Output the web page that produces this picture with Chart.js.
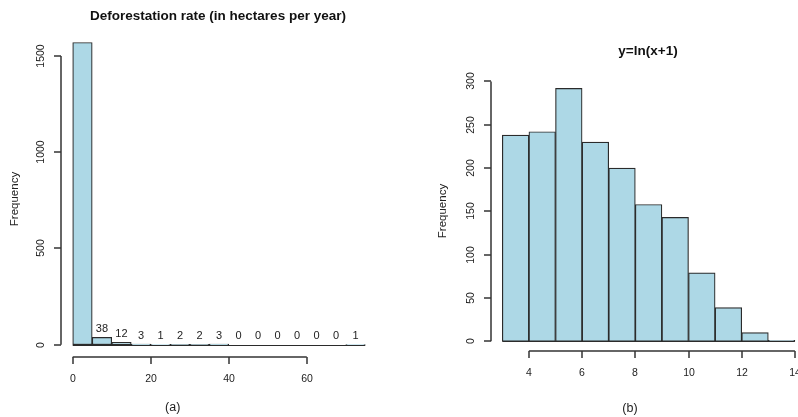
<!DOCTYPE html>
<html>
<head>
<meta charset="utf-8">
<script src="https://cdn.jsdelivr.net/npm/chart.js@4.4.1/dist/chart.umd.min.js"></script>
<style>
html, body { margin: 0; padding: 0; background: #fff; }
#wrap { position: relative; width: 798px; height: 417px; overflow: hidden; }
canvas { position: absolute; top: 0; }
</style>
</head>
<body>
<div id="wrap">
  <canvas id="left" width="400" height="417" style="left:0"></canvas>
  <canvas id="right" width="398" height="417" style="left:400px"></canvas>
</div>
<script>
// (a) raw deforestation rate, bins of 5 ha starting at 0
var rawStart = 0, rawWidth = 5;
var rawCounts = [1570, 38, 12, 3, 1, 2, 2, 3, 0, 0, 0, 0, 0, 0, 1];
var rawXTicks = [0, 20, 40, 60];
var rawYTicks = [0, 500, 1000, 1500];

// (b) y = ln(x+1), bins of 1 starting at 3
var logStart = 3, logWidth = 1;
var logCounts = [238, 242, 292, 230, 200, 158, 143, 79, 39, 10, 1];
var logXTicks = [4, 6, 8, 10, 12, 14];
var logYTicks = [0, 50, 100, 150, 200, 250, 300];

var FONT = "'Liberation Sans', Arial, Helvetica, sans-serif";

function toPoints(start, width, counts) {
	var pts = [];
	for (var i = 0; i < counts.length; i++) {
		pts.push({ x: start + (i + 0.5) * width, y: counts[i] });
	}
	return pts;
}

function seg(ctx, x1, y1, x2, y2) {
	ctx.beginPath();
	ctx.moveTo(x1, y1);
	ctx.lineTo(x2, y2);
	ctx.stroke();
}

// R-style detached axes, labels and annotations
var rAxes = {
	id: 'rAxes',
	afterDatasetsDraw: function (chart, args, o) {
		var ctx = chart.ctx, xs = chart.scales.x, ys = chart.scales.y, a = chart.chartArea;
		var xt = o.xTicks, yt = o.yTicks;
		var yb = Math.round(a.bottom);
		var xl = Math.round(a.left);
		ctx.save();

		// zero-height bins show as a line along the base
		ctx.lineWidth = 1;
		ctx.strokeStyle = '#2b2b2b';
		var y0 = Math.round(ys.getPixelForValue(0)) + 0.5;
		seg(ctx, xs.getPixelForValue(o.binStart), y0,
			xs.getPixelForValue(o.binStart + o.binWidth * o.counts.length), y0);

		ctx.lineWidth = 1.5;
		ctx.strokeStyle = '#333';

		// y axis line, only between the outer ticks
		var yLo = ys.getPixelForValue(yt[0]);
		var yHi = ys.getPixelForValue(yt[yt.length - 1]);
		seg(ctx, xl, yLo, xl, yHi);

		// x axis
		seg(ctx, xs.getPixelForValue(xt[0]), yb, xs.getPixelForValue(xt[xt.length - 1]), yb);
		ctx.fillStyle = '#222';
		ctx.font = '10.5px ' + FONT;
		ctx.textAlign = 'center';
		ctx.textBaseline = 'middle';
		xt.forEach(function (v) {
			var px = Math.round(xs.getPixelForValue(v));
			seg(ctx, px, yb, px, yb + 7);
			ctx.fillText(String(v), px, yb + 22);
		});

		// y ticks and rotated labels
		yt.forEach(function (v) {
			var py = Math.round(ys.getPixelForValue(v));
			seg(ctx, xl, py, xl - 7, py);
			ctx.save();
			ctx.translate(xl - 20, py);
			ctx.rotate(-Math.PI / 2);
			ctx.fillText(String(v), 0, 0);
			ctx.restore();
		});

		// counts above bars (clipped like R when they leave the plot region)
		if (o.showCounts) {
			ctx.font = '11px ' + FONT;
			o.counts.forEach(function (c, i) {
				var px = xs.getPixelForValue(o.binStart + (i + 0.5) * o.binWidth);
				var py = ys.getPixelForValue(c) - 8.5;
				if (py - 6 < a.top) return;
				ctx.fillText(String(c), px, py);
			});
		}

		// title, y label, panel tag
		ctx.font = 'bold 13.5px ' + FONT;
		ctx.fillStyle = '#111';
		ctx.fillText(o.title, o.titlePos[0], o.titlePos[1]);
		ctx.font = '11.5px ' + FONT;
		ctx.fillStyle = '#222';
		ctx.save();
		ctx.translate(o.ylabPos[0], o.ylabPos[1]);
		ctx.rotate(-Math.PI / 2);
		ctx.fillText('Frequency', 0, 0);
		ctx.restore();
		ctx.font = '12.5px ' + FONT;
		ctx.fillText(o.tag, o.tagPos[0], o.tagPos[1]);
		ctx.restore();
	}
};

function makeHist(id, start, width, counts, xr, yr, pad, extra) {
	var opts = {
		binStart: start, binWidth: width, counts: counts
	};
	for (var k in extra) opts[k] = extra[k];
	return new Chart(document.getElementById(id), {
		type: 'bar',
		data: {
			datasets: [{
				data: toPoints(start, width, counts),
				backgroundColor: '#ADD8E6',
				borderColor: '#2b2b2b',
				borderWidth: 1.2,
				borderSkipped: false,
				barPercentage: 1,
				categoryPercentage: 1
			}]
		},
		options: {
			responsive: false,
			animation: false,
			layout: { padding: pad },
			plugins: {
				legend: { display: false },
				tooltip: { enabled: false },
				rAxes: opts
			},
			scales: {
				x: { type: 'linear', offset: false, min: xr[0], max: xr[1], display: false },
				y: { min: yr[0], max: yr[1], display: false }
			}
		},
		plugins: [rAxes]
	});
}

makeHist('left', rawStart, rawWidth, rawCounts, [-3, 78], [-62.8, 1632.8],
	{ left: 61, right: 23, top: 30.4, bottom: 60.2 },
	{
		xTicks: rawXTicks, yTicks: rawYTicks, showCounts: true,
		title: 'Deforestation rate (in hectares per year)', titlePos: [218, 16],
		ylabPos: [15, 199], tag: '(a)', tagPos: [172.7, 408]
	});

makeHist('right', logStart, logWidth, logCounts, [2.56, 14.116], [-11.68, 303.68],
	{ left: 90.6, right: 0, top: 78.3, bottom: 65.6 },
	{
		xTicks: logXTicks, yTicks: logYTicks, showCounts: false,
		title: 'y=ln(x+1)', titlePos: [248, 51],
		ylabPos: [43, 211], tag: '(b)', tagPos: [230, 409]
	});
</script>
</body>
</html>
